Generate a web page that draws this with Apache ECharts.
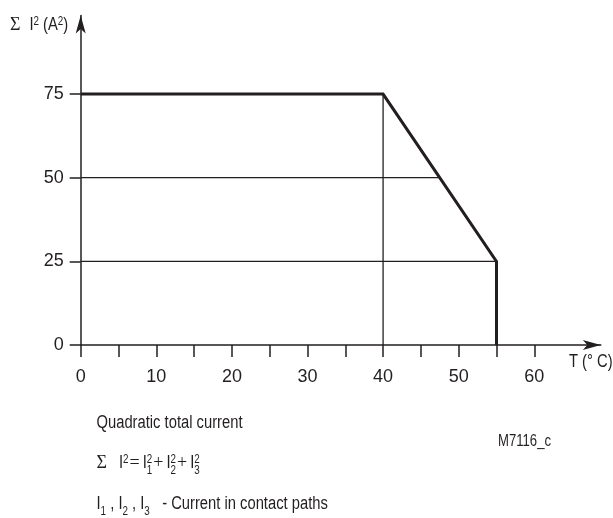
<!DOCTYPE html>
<html><head><meta charset="utf-8">
<script src="https://cdn.jsdelivr.net/npm/echarts@6/dist/echarts.min.js"></script>
<style>html,body{margin:0;padding:0;background:#fff}#c{width:613px;height:518px}</style>
</head><body><div id="c"></div>
<script>
// ---- data ----
const temperatureTicks = [0, 5, 10, 15, 20, 25, 30, 35, 40, 45, 50, 55, 60];
const temperatureLabels = [0, 10, 20, 30, 40, 50, 60];
const currentTicks = [0, 25, 50, 75];
const curveT = [0, 40, 55, 55];
const curveI = [75, 75, 25, 0];
const guideLevels = [50, 25];
const guideEndsT = [47.5, 55];
const verticalGuideT = 40;
const verticalGuideI = [0, 75];

// ---- style ----
const BASE = "'Liberation Sans',sans-serif";
const NARROW = "'Liberation Sans Narrow','Liberation Sans',sans-serif";
const SERIF = "'Liberation Serif','DejaVu Serif',serif";
const INK = '#231f20';

const ctx = document.createElement('canvas').getContext('2d');
function rawW(text, size, fam) { ctx.font = size + 'px ' + fam; return ctx.measureText(text).width; }
const narrowOK = Math.abs(rawW('Quadratic total current', 18, NARROW) - rawW('Quadratic total current', 18, BASE)) > 2;
const SANS = narrowOK ? NARROW : BASE;
const SQ = narrowOK ? 1 : 0.82;

function tw(text, size, fam, sx) { return rawW(text, size, fam) * sx; }
function txt(x, y, text, size, fam, sx) {
  return { type: 'text', x: x, y: y, scaleX: sx, silent: true,
    style: { text: text, fontSize: size, fontFamily: fam, fill: INK, align: 'left', verticalAlign: 'middle' } };
}
function buildLine(x, y, parts) {
  const els = [];
  for (const p of parts) {
    if (p.gap !== undefined) { x += p.gap; continue; }
    if (p.sup !== undefined || p.sub !== undefined) {
      let wm = 0;
      if (p.sup) { els.push(txt(x, y - 3, p.sup, 12, SANS, SQ)); wm = Math.max(wm, tw(p.sup, 12, SANS, SQ)); }
      if (p.sub) { els.push(txt(x, y + 8, p.sub, 12, SANS, SQ)); wm = Math.max(wm, tw(p.sub, 12, SANS, SQ)); }
      x += wm; continue;
    }
    const size = p.size || 18;
    const fam = p.serif ? SERIF : SANS;
    const sx = p.serif ? 1 : SQ;
    els.push(txt(x, y, p.t, size, fam, sx));
    x += tw(p.t, size, fam, sx);
  }
  return els;
}

const graphics = [].concat(
  buildLine(10, 25, [{ t: 'Σ', serif: true }, { gap: 9 }, { t: 'I' }, { sup: '2' }, { gap: 4 }, { t: '(A' }, { sup: '2' }, { t: ')' }]),
  buildLine(569, 362, [{ t: 'T (° C)' }]),
  buildLine(498, 442, [{ t: 'M7116_c', size: 16 }]),
  buildLine(96.5, 423, [{ t: 'Quadratic total current' }]),
  buildLine(96.5, 463, [{ t: 'Σ', serif: true }, { gap: 12 }, { t: 'I' }, { sup: '2' }, { gap: 1 }, { t: '=', serif: true }, { gap: 3 }, { t: 'I' }, { sup: '2', sub: '1' },
    { gap: 1 }, { t: '+', serif: true }, { gap: 3 }, { t: 'I' }, { sup: '2', sub: '2' }, { gap: 1 }, { t: '+', serif: true }, { gap: 3 }, { t: 'I' }, { sup: '2', sub: '3' }]),
  buildLine(96.5, 504, [{ t: 'I' }, { sub: '1' }, { t: ' , I' }, { sub: '2' }, { t: ' , I' }, { sub: '3' }, { t: '   - Current in contact paths' }])
);

const guideSeries = guideLevels.map((lvl, i) => ({
  type: 'line', symbol: 'none', silent: true, z: 2,
  lineStyle: { color: INK, width: 1.3 },
  data: [[0, lvl], [guideEndsT[i], lvl]]
}));
guideSeries.push({
  type: 'line', symbol: 'none', silent: true, z: 2,
  lineStyle: { color: INK, width: 1.3 },
  data: verticalGuideI.map(v => [verticalGuideT, v])
});

const chart = echarts.init(document.getElementById('c'), null, { renderer: 'canvas' });
chart.setOption({
  animation: false,
  backgroundColor: '#fff',
  grid: { left: 80.7, top: 15.4, width: 520.1, height: 329.6, containLabel: false },
  xAxis: {
    type: 'value', min: 0, max: 68.8, interval: 5,
    axisLine: { show: true, onZero: true, symbol: ['none', 'arrow'], symbolSize: [7.5, 18], lineStyle: { color: INK, width: 1.5 } },
    axisTick: { show: true, length: 12, customValues: temperatureTicks, lineStyle: { color: INK, width: 1.5 } },
    axisLabel: { customValues: temperatureLabels, fontSize: 18, fontFamily: SANS, color: INK, margin: 23,
      formatter: v => (v % 10 === 0 && v <= 60 ? String(v) : '') },
    splitLine: { show: false }
  },
  yAxis: {
    type: 'value', min: 0, max: 98.5, interval: 25,
    axisLine: { show: true, symbol: ['none', 'arrow'], symbolSize: [7.5, 18], lineStyle: { color: INK, width: 1.5 } },
    axisTick: { show: true, length: 11, customValues: currentTicks, lineStyle: { color: INK, width: 1.5 } },
    axisLabel: { customValues: currentTicks, fontSize: 18, fontFamily: SANS, color: INK, margin: 17 },
    splitLine: { show: false }
  },
  series: guideSeries.concat([{
    type: 'line', symbol: 'none', silent: true, z: 3,
    lineStyle: { color: INK, width: 3, join: 'miter' },
    data: curveT.map((t, i) => [t, curveI[i]])
  }]),
  graphic: graphics
});
</script>
</body></html>
